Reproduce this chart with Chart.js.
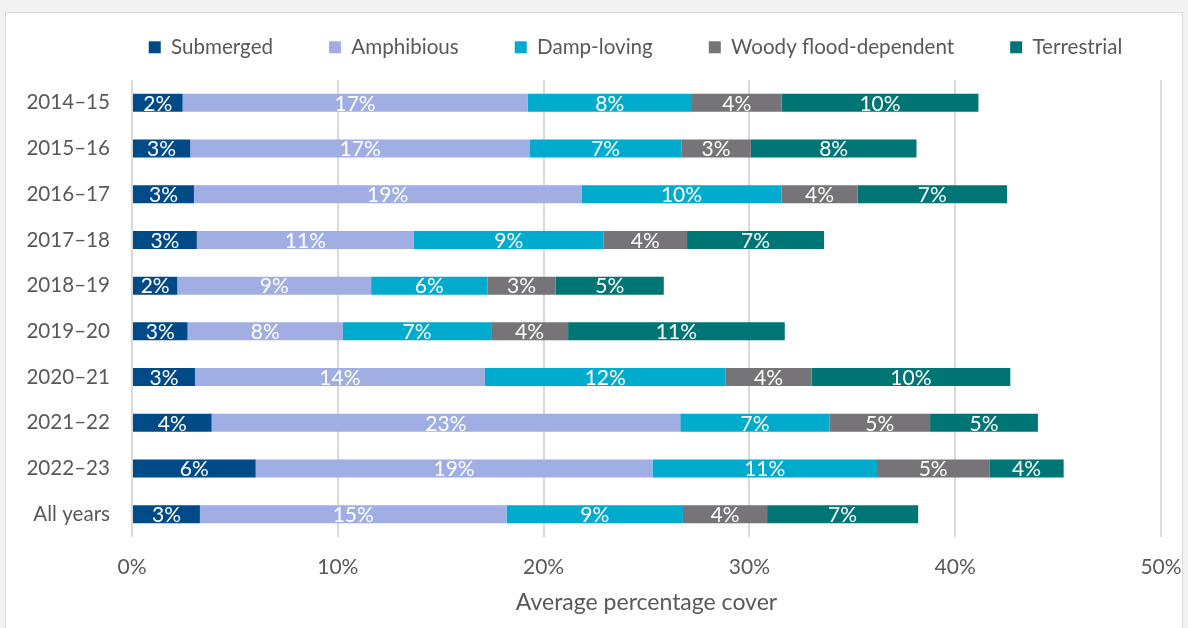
<!DOCTYPE html>
<html>
<head>
<meta charset="utf-8">
<script src="https://cdn.jsdelivr.net/npm/chart.js@4"></script>
<style>
    body { margin: 0; background: #f2f2f2; overflow: hidden; }
    .panel { position: absolute; left: 5px; top: 12px; width: 1176px; height: 640px; background: #fff; border: 1px solid #d9d9d9; }
    .chart-box { position: relative; width: 1176px; height: 615px; }
</style>
</head>
<body>
<div class="panel">
    <div class="chart-box"><canvas id="coverChart"></canvas></div>
</div>
<script>
const years = ['2014–15', '2015–16', '2016–17', '2017–18', '2018–19', '2019–20', '2020–21', '2021–22', '2022–23', 'All years'];

// average percentage cover per functional group
const submerged = [2.46, 2.83, 3.01, 3.15, 2.20, 2.70, 3.06, 3.87, 6.01, 3.30];
const amphibious = [16.76, 16.51, 18.83, 10.55, 9.42, 7.55, 14.09, 22.77, 19.28, 14.90];
const dampLoving = [7.99, 7.35, 9.72, 9.22, 5.65, 7.20, 11.69, 7.26, 10.91, 8.57];
const woodyFlood = [4.35, 3.38, 3.70, 4.05, 3.32, 3.74, 4.18, 4.88, 5.46, 4.09];
const terrestrial = [9.57, 8.05, 7.26, 6.66, 5.25, 10.53, 9.66, 5.24, 3.61, 7.34];

const xTicks = [0, 10, 20, 30, 40, 50];

const FONT = 'Lato, "Open Sans", sans-serif';
const GREY_TEXT = '#595959';

// white value labels in the middle of each segment
const segmentLabels = {
    id: 'segmentLabels',
    afterDatasetsDraw(chart) {
        const ctx = chart.ctx;
        ctx.save();
        ctx.fillStyle = '#ffffff';
        ctx.font = '21px ' + FONT;
        ctx.textAlign = 'center';
        ctx.textBaseline = 'middle';
        chart.data.datasets.forEach((ds, i) => {
            chart.getDatasetMeta(i).data.forEach((bar, j) => {
                const cx = (bar.x + bar.base) / 2;
                ctx.fillText(Math.round(ds.data[j]) + '%', cx, bar.y + 1);
            });
        });
        ctx.restore();
    }
};

// legend needs wide gaps between items but a tight top margin
const legendPlacement = {
    id: 'legendPlacement',
    beforeInit(chart) {
        const fit = chart.legend.fit;
        chart.legend.fit = function () {
            fit.call(this);
            this.height = 67;
        };
    },
    afterLayout(chart) {
        const lg = chart.legend;
        const pad = lg.options.labels.padding;
        const area = chart.chartArea;
        const dx = (area.left + area.right) / 2 - 11 - (lg.left + lg.right) / 2;
        lg.left += dx;
        lg.right += dx;
        lg.top = 34 - pad - 10;
    }
};

const ctx = document.getElementById('coverChart').getContext('2d');
new Chart(ctx, {
    type: 'bar',
    data: {
        labels: years,
        datasets: [
            { label: 'Submerged', data: submerged, backgroundColor: '#004b87' },
            { label: 'Amphibious', data: amphibious, backgroundColor: '#a0aee3' },
            { label: 'Damp-loving', data: dampLoving, backgroundColor: '#00abcd' },
            { label: 'Woody flood-dependent', data: woodyFlood, backgroundColor: '#767478' },
            { label: 'Terrestrial', data: terrestrial, backgroundColor: '#007576' }
        ]
    },
    options: {
        indexAxis: 'y',
        responsive: true,
        maintainAspectRatio: false,
        animation: false,
        layout: { padding: { left: 0, right: 21, top: 0, bottom: 8 } },
        datasets: { bar: { categoryPercentage: 1, barPercentage: 0.394, borderWidth: 0 } },
        plugins: {
            tooltip: { enabled: false },
            legend: {
                position: 'top',
                labels: {
                    color: GREY_TEXT,
                    font: { family: FONT, size: 20.6 },
                    boxWidth: 12,
                    boxHeight: 12,
                    padding: 56
                }
            }
        },
        scales: {
            x: {
                stacked: true,
                min: 0,
                max: 50,
                afterBuildTicks(scale) { scale.ticks = xTicks.map(v => ({ value: v })); },
                afterFit(scale) {
                    scale.height = 83;
                    scale.paddingLeft = 0;
                    scale.paddingRight = 0;
                },
                grid: { color: '#d9d9d9', lineWidth: 2, drawTicks: false },
                border: { display: false },
                ticks: {
                    color: GREY_TEXT,
                    font: { family: FONT, size: 21 },
                    padding: 18,
                    callback: v => v + '%'
                },
                title: {
                    display: true,
                    text: 'Average percentage cover',
                    color: GREY_TEXT,
                    font: { family: FONT, size: 23 },
                    padding: { top: 6, bottom: 4 }
                }
            },
            y: {
                stacked: true,
                grid: { display: false, drawTicks: false },
                border: { display: false },
                afterFit(scale) { scale.width = 126; },
                ticks: {
                    color: GREY_TEXT,
                    font: { family: FONT, size: 20.6 },
                    padding: 22
                }
            }
        }
    },
    plugins: [segmentLabels, legendPlacement]
});
</script>
</body>
</html>
